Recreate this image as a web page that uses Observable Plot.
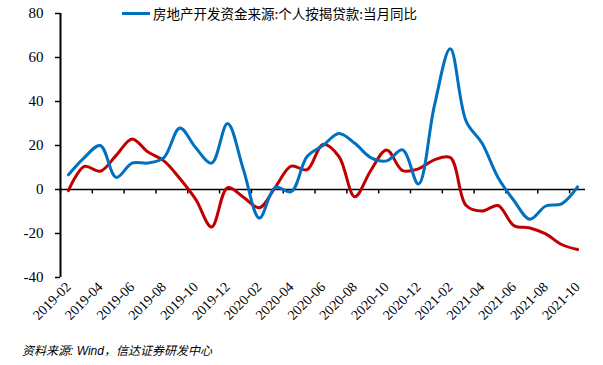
<!DOCTYPE html>
<html>
<head>
<meta charset="utf-8">
<script src="https://cdn.jsdelivr.net/npm/d3@7"></script>
<script src="https://cdn.jsdelivr.net/npm/@observablehq/plot@0.6"></script>
<style>
  html, body { margin: 0; padding: 0; background: #fff; }
  #wrap { position: relative; width: 603px; height: 365px; overflow: hidden; }
  #legend { position: absolute; left: 122px; top: 3px; display: flex; align-items: center;
    font-family: "Noto Sans CJK SC", sans-serif; font-size: 13.5px; color: #000; }
  #legend .sw { width: 28px; height: 3px; background: #0070C0; margin-right: 3px; }
  #caption { position: absolute; left: 22px; top: 341px; font-family: "Liberation Sans", "Noto Sans CJK SC", sans-serif;
    font-style: italic; font-size: 12px; color: #000; }
</style>
</head>
<body>
<div id="wrap">
  <div id="chart"></div>
  <div id="legend"><span class="sw"></span><span>房地产开发资金来源:个人按揭贷款:当月同比</span></div>
  <div id="caption">资料来源: Wind，信达证券研发中心</div>
</div>
<script>
const months = ["2019-02","2019-03","2019-04","2019-05","2019-06","2019-07","2019-08","2019-09","2019-10","2019-11","2019-12",
  "2020-01","2020-02","2020-03","2020-04","2020-05","2020-06","2020-07","2020-08","2020-09","2020-10","2020-11","2020-12",
  "2021-01","2021-02","2021-03","2021-04","2021-05","2021-06","2021-07","2021-08","2021-09","2021-10"];
const blueSeries = [6.7, 14.5, 20, 5.5, 12, 12, 14.5, 28, 19, 12, 30, 9, -13, 1, -1, 15, 20, 25.5, 21, 14.5, 13, 18, 2.5, 38, 64, 31, 21, 5.5, -5, -13.5, -7.5, -6.5, 1.2];
const redSeries = [-0.5, 10.5, 8.3, 15.5, 23, 17, 13, 5, -4.5, -17, 0.8, -3.5, -8.3, 1, 10.6, 9, 20.5, 15, -3.3, 8.6, 18, 8.6, 9.4, 13.5, 14.5, -7.3, -9.8, -7.3, -16.4, -17.5, -20.2, -25, -27.3];
const yTicks = [-40, -20, 0, 20, 40, 60, 80];
const labelIdx = d3.range(0, months.length, 2);

const blueData = months.map((m, i) => ({i, v: blueSeries[i]}));
const redData = months.map((m, i) => ({i, v: redSeries[i]}));
const xDomain = [-0.5, months.length - 0.5];
const bounds = labelIdx.map(i => i - 0.5);

const chart = Plot.plot({
  width: 603,
  height: 340,
  marginLeft: 60,
  marginRight: 18,
  marginTop: 13,
  marginBottom: 63,
  style: {fontFamily: "'Liberation Serif', serif", background: "#fff", color: "#000"},
  x: {type: "linear", domain: xDomain, label: null},
  y: {domain: [-40, 80], label: null},
  marks: [
    Plot.axisY({ticks: yTicks, tickSize: 5, tickPadding: 12, fontSize: 15, tickFormat: d => String(d), strokeWidth: 1.5, label: null}),
    Plot.axisX({ticks: labelIdx, tickFormat: i => months[i], tickSize: 0, tickPadding: 7, tickRotate: -45, fontSize: 14, label: null}),
    Plot.ruleY([0], {stroke: "#000", strokeWidth: 1.5}),
    Plot.ruleX(bounds, {y1: 0, y2: -2, stroke: "#000", strokeWidth: 1.5}),
    Plot.ruleX([xDomain[0]], {stroke: "#000", strokeWidth: 2}),
    Plot.line(redData, {x: "i", y: "v", stroke: "#C00000", strokeWidth: 3, curve: "catmull-rom"}),
    Plot.line(blueData, {x: "i", y: "v", stroke: "#0070C0", strokeWidth: 3, curve: "catmull-rom"})
  ]
});
document.getElementById("chart").appendChild(chart);
</script>
</body>
</html>
